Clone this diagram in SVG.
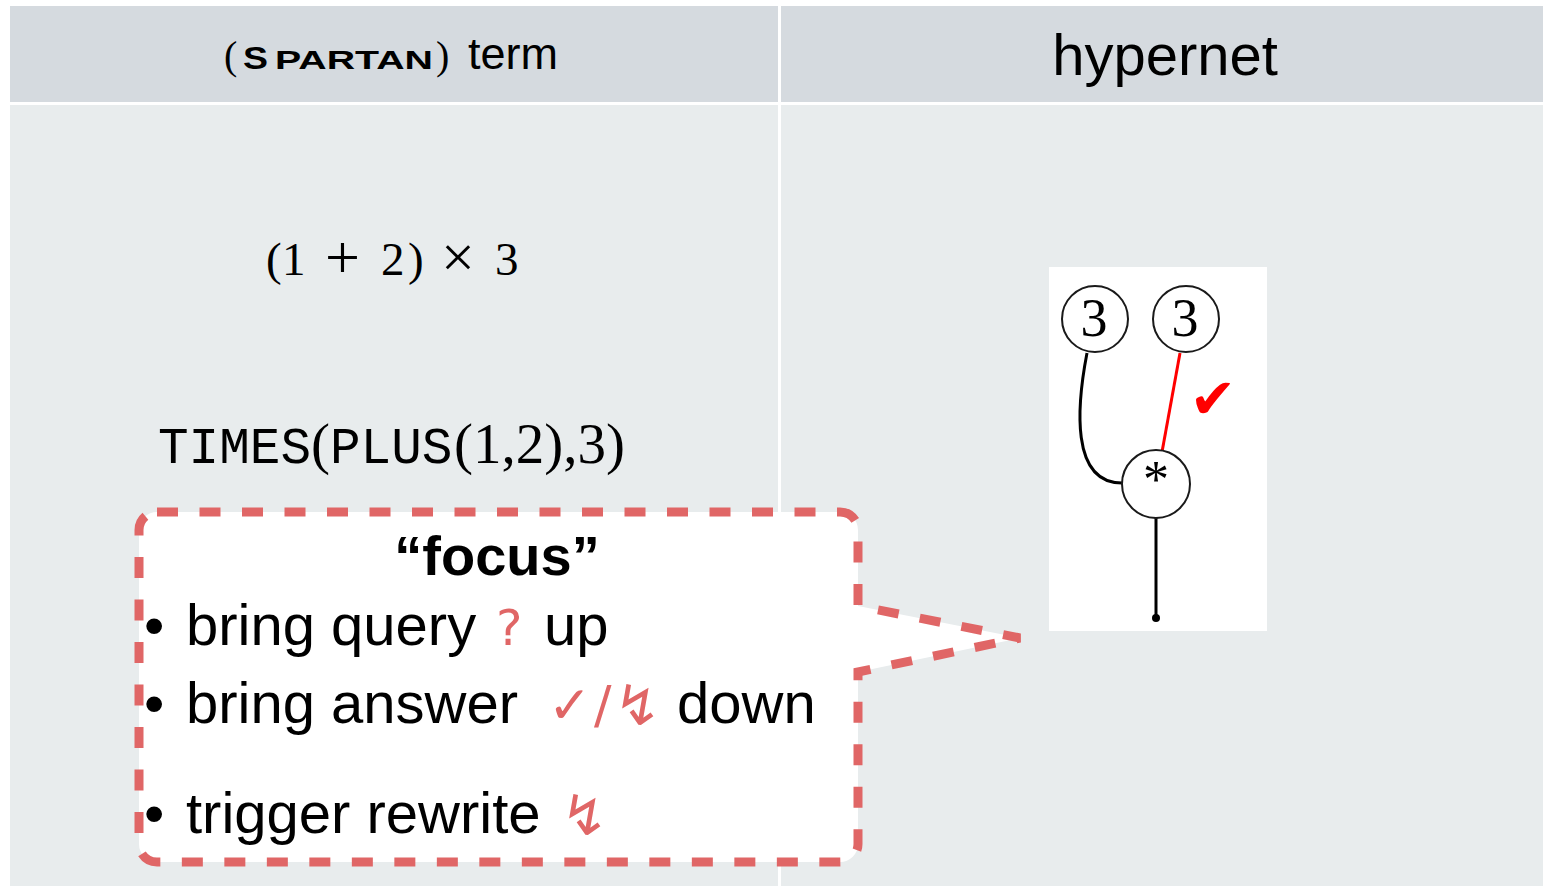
<svg xmlns="http://www.w3.org/2000/svg" width="1543" height="886" viewBox="0 0 1543 886">
  <style>
    .hdr { fill: #d5dadf; }
    .body { fill: #e8eced; }
    .sans { font-family: "Liberation Sans", Arial, sans-serif; fill: #000; }
    .serif { font-family: "Liberation Serif", "Times New Roman", serif; fill: #000; }
    .mono { font-family: "Liberation Mono", "Courier New", monospace; fill: #000; }
    .sym { font-family: "DejaVu Sans", sans-serif; fill: #e06666; }
    .node { fill: #fff; stroke: #1a1a1a; stroke-width: 2; }
    .wire { fill: none; stroke: #000; stroke-width: 3; }
    .callout { fill: #fff; stroke: #e06666; stroke-width: 9; stroke-dasharray: 21 21.5; }
  </style>

  <!-- table background -->
  <rect x="0" y="0" width="1543" height="886" fill="#fff"/>
  <rect class="hdr" x="10" y="6" width="768" height="96"/>
  <rect class="hdr" x="781" y="6" width="762" height="96"/>
  <rect class="body" x="10" y="105" width="768" height="781"/>
  <rect class="body" x="781" y="105" width="762" height="781"/>

  <!-- column headings -->
  <text class="sans" y="69"><tspan class="serif" x="224" font-size="40">(</tspan><tspan x="243" font-size="32" font-weight="bold" textLength="25" lengthAdjust="spacingAndGlyphs">S</tspan><tspan x="275" font-size="26" font-weight="bold" textLength="158" lengthAdjust="spacingAndGlyphs">PARTAN</tspan><tspan class="serif" x="436" font-size="40">)</tspan><tspan x="468" font-size="45">term</tspan></text>
  <text class="sans" x="1165" y="75" font-size="58" text-anchor="middle">hypernet</text>

  <!-- term notations -->
  <text class="serif" y="275" font-size="47"><tspan x="266">(</tspan><tspan x="282">1</tspan><tspan x="325" dy="3" font-size="62">+</tspan><tspan x="381" dy="-3">2</tspan><tspan x="408">)</tspan><tspan x="441" dy="2" font-size="60">×</tspan><tspan x="495" dy="-2">3</tspan></text>
  <text y="463"><tspan class="mono" x="158" font-size="51">TIMES</tspan><tspan class="serif" x="311" font-size="57">(</tspan><tspan class="mono" x="330" font-size="51">PLUS</tspan><tspan class="serif" x="454" font-size="57">(1,2),3)</tspan></text>

  <!-- hypernet picture -->
  <g id="hypernet">
    <rect x="1049" y="267" width="218" height="364" fill="#fff"/>
    <g id="connectors">
      <path class="wire" d="M1087 353 C1077 405 1070 483 1122 483"/>
      <line x1="1180" y1="353" x2="1162" y2="452" stroke="#ff0000" stroke-width="3"/>
      <line class="wire" x1="1156" y1="517" x2="1156" y2="618"/>
      <circle cx="1156" cy="618" r="4" fill="#000"/>
    </g>
    <g id="node-3a">
      <circle class="node" cx="1095" cy="319" r="33"/>
      <text class="serif" x="1094" y="336" font-size="54" text-anchor="middle">3</text>
    </g>
    <g id="node-3b">
      <circle class="node" cx="1186" cy="319" r="33"/>
      <text class="serif" x="1185" y="336" font-size="54" text-anchor="middle">3</text>
    </g>
    <g id="node-times">
      <circle class="node" cx="1156" cy="484" r="34"/>
      <text class="serif" x="1156" y="497" font-size="52" text-anchor="middle">*</text>
    </g>
    <text x="1213" y="418" font-family="DejaVu Sans, sans-serif" font-size="56" fill="#ff0000" text-anchor="middle">✔</text>
  </g>

  <!-- focus callout -->
  <g id="focus">
    <path class="callout" d="M157 512 H840 A18 18 0 0 1 858 530 V606 L1020 638 L858 672 V844 A18 18 0 0 1 840 862 H157 A18 18 0 0 1 139 844 V530 A18 18 0 0 1 157 512 Z"/>
    <text class="sans" x="497" y="575" font-size="56" font-weight="bold" text-anchor="middle">“focus”</text>
    <text class="sans" y="645" font-size="58"><tspan x="144">•</tspan><tspan x="186">bring query</tspan><tspan class="sym" x="496" font-size="50">?</tspan><tspan x="544">up</tspan></text>
    <text class="sans" y="723" font-size="58"><tspan x="144">•</tspan><tspan x="186">bring answer</tspan><tspan class="sym" x="548" font-size="52">✓</tspan><tspan class="sym" x="594" font-size="52">/</tspan><tspan class="sym" x="614" dy="2" font-size="56">↯</tspan><tspan x="677" dy="-2">down</tspan></text>
    <text class="sans" y="833" font-size="58"><tspan x="144">•</tspan><tspan x="186">trigger rewrite</tspan><tspan class="sym" x="561" dy="2" font-size="56">↯</tspan></text>
  </g>
</svg>
